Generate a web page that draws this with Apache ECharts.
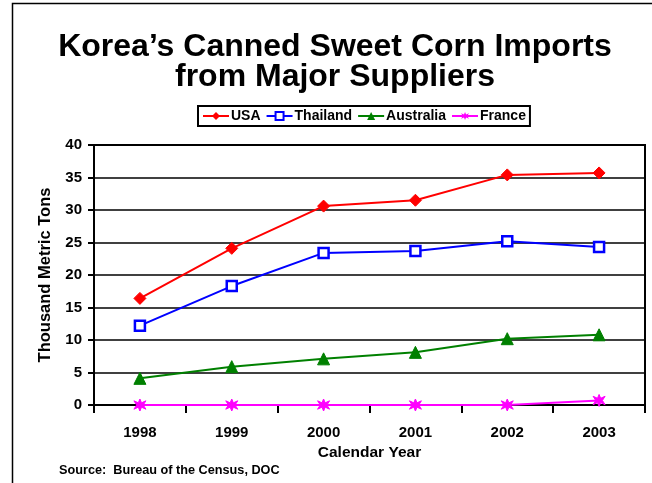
<!DOCTYPE html>
<html><head><meta charset="utf-8">
<script src="https://cdn.jsdelivr.net/npm/echarts@6/dist/echarts.min.js"></script>
<style>html,body{margin:0;padding:0;background:#fff}#c{width:652px;height:483px}</style>
</head><body><div id="c"></div>
<script>
const years = ['1998','1999','2000','2001','2002','2003'];
const usa = [16.4, 24.1, 30.6, 31.5, 35.4, 35.7];
const thailand = [12.2, 18.3, 23.4, 23.7, 25.2, 24.3];
const australia = [4.1, 5.9, 7.1, 8.1, 10.2, 10.8];
const france = [0, 0, 0, 0, 0, 0.7];
const yTicks = [0, 5, 10, 15, 20, 25, 30, 35, 40];
const titleLines = ['Korea\u2019s Canned Sweet Corn Imports', 'from Major Suppliers'];

const FONT = '"Liberation Sans", Arial, sans-serif';
const starPath = 'path://M5,0 L6.2,3.2 L9.5,1.5 L7.5,5 L9.5,8.5 L6.2,6.8 L5,10 L3.8,6.8 L0.5,8.5 L2.5,5 L0.5,1.5 L3.8,3.2 Z';
const chart = echarts.init(document.getElementById('c'), null, {renderer: 'canvas'});
function ser(name, data, color, symbol, size, extra) {
  return Object.assign({
    name, type: 'line', data, symbol, symbolSize: size,
    lineStyle: {color, width: 2},
    itemStyle: {color, borderColor: color},
    animation: false
  }, extra || {});
}
chart.setOption({
  backgroundColor: '#fff',
  textStyle: {fontFamily: FONT},
  legend: {
    left: 198, top: 106, width: 340,
    borderColor: '#000', borderWidth: 2, padding: [3, 4],
    itemGap: 5, itemWidth: 26, itemHeight: 10,
    textStyle: {fontFamily: FONT, fontWeight: 'bold', fontSize: 14, color: '#000', padding: [0,0,0,-3]},
    data: ['USA', 'Thailand', 'Australia', 'France']
  },
  grid: {left: 94, right: 7, top: 145, bottom: 78, show: true, borderColor: '#000', borderWidth: 2},
  xAxis: {
    type: 'category', data: years, boundaryGap: true,
    axisLine: {lineStyle: {color: '#000', width: 2}},
    axisTick: {show: true, length: 8, inside: false, lineStyle: {color: '#000', width: 2}, alignWithLabel: false},
    axisLabel: {fontFamily: FONT, fontWeight: 'bold', fontSize: 15, color: '#000', margin: 20},
    name: 'Calendar Year', nameLocation: 'middle', nameGap: 37,
    nameTextStyle: {fontFamily: FONT, fontWeight: 'bold', fontSize: 15.5, color: '#000'}
  },
  yAxis: {
    type: 'value', min: yTicks[0], max: yTicks[yTicks.length-1], interval: 5,
    axisLine: {show: true, lineStyle: {color: '#000', width: 2}},
    axisTick: {show: true, length: 6, lineStyle: {color: '#000', width: 2}},
    axisLabel: {fontFamily: FONT, fontWeight: 'bold', fontSize: 15, color: '#000', margin: 12},
    splitLine: {show: true, lineStyle: {color: '#000', width: 1.5}},
    name: 'Thousand Metric Tons', nameLocation: 'middle', nameGap: 40,
    nameTextStyle: {fontFamily: FONT, fontWeight: 'bold', fontSize: 16.5, color: '#000'}
  },
  graphic: [
    {type: 'polyline', shape: {points: [[12.5, 490], [12.5, 3.5], [660, 3.5]]}, style: {stroke: '#000', lineWidth: 1.5, fill: null}},
    {type: 'text', x: 335, y: 47, style: {text: titleLines[0], font: 'bold 32px ' + FONT, fill: '#000', textAlign: 'center', textVerticalAlign: 'middle'}},
    {type: 'text', x: 335, y: 77, style: {text: titleLines[1], font: 'bold 32px ' + FONT, fill: '#000', textAlign: 'center', textVerticalAlign: 'middle'}},
    {type: 'text', left: 59, top: 464, style: {text: 'Source:  Bureau of the Census, DOC', font: 'bold 12.7px ' + FONT, fill: '#000'}}
  ],
  series: [
    ser('USA', usa, '#ff0000', 'diamond', 12),
    ser('Thailand', thailand, '#0000ff', 'rect', 10, {itemStyle: {color: '#fff', borderColor: '#0000ff', borderWidth: 2.5}}),
    ser('Australia', australia, '#008000', 'triangle', 12),
    ser('France', france, '#ff00ff', starPath, 12)
  ]
});
</script></body></html>
